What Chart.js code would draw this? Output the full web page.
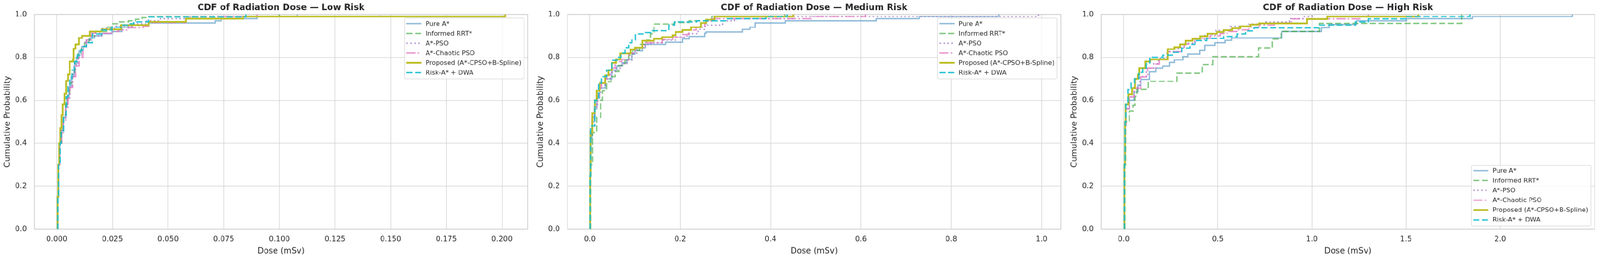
<!DOCTYPE html>
<html>
<head>
<meta charset="utf-8">
<script src="https://cdn.jsdelivr.net/npm/chart.js@4.4.1/dist/chart.umd.min.js"></script>
<style>
html,body{margin:0;padding:0;background:#ffffff;overflow:hidden;}
#stage{position:absolute;left:0;top:0;width:4244px;height:694px;transform-origin:0 0;background:#ffffff;}
.panel{position:absolute;top:0;width:1410px;height:694px;}
</style>
</head>
<body>
<div id="stage">
<div class="panel" style="left:0px"><canvas id="c1"></canvas></div>
<div class="panel" style="left:1414px"><canvas id="c2"></canvas></div>
<div class="panel" style="left:2830px"><canvas id="c3"></canvas></div>
</div>
<script>
// ---------------- DATA ----------------
const seriesNames = ['Pure A*', 'Informed RRT*', 'A*-PSO', 'A*-Chaotic PSO', 'Proposed (A*-CPSO+B-Spline)', 'Risk-A* + DWA'];
const panelTitles = ['CDF of Radiation Dose \u2014 Low Risk', 'CDF of Radiation Dose \u2014 Medium Risk', 'CDF of Radiation Dose \u2014 High Risk'];
const xAxisTitle = 'Dose (mSv)';
const yAxisTitle = 'Cumulative Probability';

const yTicks = [0, 0.2, 0.4, 0.6, 0.8, 1.0];
const yTickLabels = ['0.0', '0.2', '0.4', '0.6', '0.8', '1.0'];
const lowTicks = [0, 0.025, 0.05, 0.075, 0.1, 0.125, 0.15, 0.175, 0.2];
const lowTickLabels = ['0.000', '0.025', '0.050', '0.075', '0.100', '0.125', '0.150', '0.175', '0.200'];
const medTicks = [0, 0.2, 0.4, 0.6, 0.8, 1.0];
const medTickLabels = ['0.0', '0.2', '0.4', '0.6', '0.8', '1.0'];
const highTicks = [0, 0.5, 1.0, 1.5, 2.0];
const highTickLabels = ['0.0', '0.5', '1.0', '1.5', '2.0'];

// Low risk
const lowPureA_dose = [0.0001, 0.0004, 0.0008, 0.0014, 0.0022, 0.0030, 0.0040, 0.0046, 0.0054, 0.0065, 0.0078, 0.0088, 0.0100, 0.0112, 0.0133, 0.0150, 0.0170, 0.0201, 0.0247, 0.0292, 0.0337, 0.0413, 0.0712, 0.0739, 0.0900, 0.1080];
const lowPureA_cdf  = [0, 0.15, 0.30, 0.40, 0.46, 0.52, 0.57, 0.61, 0.66, 0.71, 0.76, 0.80, 0.83, 0.85, 0.88, 0.89, 0.90, 0.91, 0.92, 0.94, 0.95, 0.96, 0.97, 0.98, 0.99, 1.0];
const lowRRT_dose = [0.0001, 0.0004, 0.0008, 0.0014, 0.0022, 0.0030, 0.0040, 0.0048, 0.0058, 0.0070, 0.0082, 0.0095, 0.0110, 0.0125, 0.0145, 0.0175, 0.0224, 0.0247, 0.0277, 0.0322, 0.0353, 0.0383, 0.0413, 0.1000];
const lowRRT_cdf  = [0, 0.15, 0.30, 0.40, 0.46, 0.52, 0.58, 0.63, 0.68, 0.73, 0.78, 0.82, 0.85, 0.87, 0.90, 0.92, 0.94, 0.956, 0.965, 0.97, 0.977, 0.985, 0.99, 1.0];
const lowPSO_dose = [0.0001, 0.0004, 0.0008, 0.0014, 0.0022, 0.0030, 0.0040, 0.0048, 0.0058, 0.0070, 0.0082, 0.0095, 0.0110, 0.0128, 0.0150, 0.0201, 0.0260, 0.0337, 0.0400, 0.0466, 0.0600, 0.1450];
const lowPSO_cdf  = [0, 0.15, 0.30, 0.40, 0.46, 0.51, 0.57, 0.62, 0.67, 0.72, 0.77, 0.81, 0.84, 0.87, 0.90, 0.935, 0.945, 0.956, 0.97, 0.98, 0.99, 1.0];
const lowCPSO_dose = [0.0001, 0.0004, 0.0008, 0.0014, 0.0022, 0.0030, 0.0040, 0.0050, 0.0060, 0.0072, 0.0085, 0.0100, 0.0118, 0.0133, 0.0156, 0.0254, 0.0277, 0.0322, 0.0387, 0.0413, 0.0580, 0.0739, 0.0900];
const lowCPSO_cdf  = [0, 0.15, 0.30, 0.40, 0.45, 0.50, 0.56, 0.61, 0.66, 0.71, 0.76, 0.80, 0.85, 0.88, 0.912, 0.92, 0.927, 0.938, 0.944, 0.962, 0.98, 0.99, 1.0];
const lowProp_dose = [0.0001, 0.0003, 0.0006, 0.0010, 0.0016, 0.0022, 0.0027, 0.0035, 0.0042, 0.0050, 0.0058, 0.0073, 0.0076, 0.0084, 0.0099, 0.0114, 0.0148, 0.0201, 0.0288, 0.0413, 0.0580, 0.0837, 0.2015];
const lowProp_cdf  = [0, 0.15, 0.30, 0.40, 0.47, 0.53, 0.58, 0.63, 0.69, 0.72, 0.78, 0.79, 0.84, 0.86, 0.89, 0.90, 0.92, 0.93, 0.95, 0.965, 0.98, 0.99, 1.0];
const lowDWA_dose = [0.0001, 0.0004, 0.0008, 0.0016, 0.0020, 0.0031, 0.0042, 0.0050, 0.0058, 0.0069, 0.0080, 0.0092, 0.0107, 0.0118, 0.0133, 0.0160, 0.0201, 0.0247, 0.0292, 0.0322, 0.0345, 0.0413, 0.0850];
const lowDWA_cdf  = [0, 0.15, 0.30, 0.40, 0.45, 0.53, 0.616, 0.663, 0.70, 0.74, 0.78, 0.81, 0.833, 0.85, 0.868, 0.909, 0.927, 0.94, 0.95, 0.956, 0.965, 0.988, 1.0];

// Medium risk
const medPureA_dose = [0.0005, 0.001, 0.002, 0.005, 0.010, 0.015, 0.022, 0.034, 0.049, 0.060, 0.071, 0.082, 0.093, 0.100, 0.116, 0.123, 0.168, 0.205, 0.220, 0.254, 0.257, 0.338, 0.354, 0.366, 0.433, 0.634, 0.729, 0.905];
const medPureA_cdf  = [0, 0.25, 0.42, 0.50, 0.56, 0.61, 0.657, 0.70, 0.74, 0.76, 0.774, 0.79, 0.815, 0.83, 0.845, 0.86, 0.87, 0.886, 0.897, 0.912, 0.918, 0.93, 0.94, 0.96, 0.97, 0.98, 0.99, 1.0];
const medRRT_dose = [0.0005, 0.002, 0.006, 0.015, 0.024, 0.028, 0.037, 0.047, 0.056, 0.064, 0.078, 0.086, 0.095, 0.110, 0.126, 0.134, 0.142, 0.187, 0.220, 0.270, 0.432];
const medRRT_cdf  = [0, 0.30, 0.45, 0.52, 0.60, 0.645, 0.686, 0.71, 0.733, 0.762, 0.786, 0.81, 0.833, 0.86, 0.88, 0.909, 0.955, 0.962, 0.97, 0.99, 1.0];
const medPSO_dose = [0.0005, 0.001, 0.002, 0.005, 0.011, 0.017, 0.024, 0.034, 0.045, 0.056, 0.070, 0.082, 0.093, 0.104, 0.116, 0.135, 0.160, 0.190, 0.215, 0.240, 0.255, 0.294, 0.320, 0.452, 0.993];
const medPSO_cdf  = [0, 0.25, 0.44, 0.52, 0.58, 0.63, 0.67, 0.70, 0.73, 0.75, 0.77, 0.786, 0.815, 0.845, 0.86, 0.868, 0.88, 0.894, 0.91, 0.93, 0.95, 0.97, 0.98, 0.99, 1.0];
const medCPSO_dose = [0.0005, 0.001, 0.002, 0.005, 0.011, 0.016, 0.021, 0.026, 0.037, 0.048, 0.056, 0.071, 0.086, 0.101, 0.123, 0.160, 0.183, 0.205, 0.220, 0.235, 0.254, 0.257, 0.269, 0.490, 0.610];
const medCPSO_cdf  = [0, 0.25, 0.45, 0.52, 0.57, 0.62, 0.66, 0.69, 0.716, 0.75, 0.78, 0.79, 0.82, 0.845, 0.868, 0.883, 0.894, 0.906, 0.927, 0.94, 0.956, 0.968, 0.98, 0.99, 1.0];
const medProp_dose = [0.0005, 0.001, 0.002, 0.0056, 0.011, 0.015, 0.022, 0.034, 0.041, 0.049, 0.058, 0.067, 0.090, 0.100, 0.116, 0.142, 0.160, 0.183, 0.190, 0.205, 0.224, 0.246, 0.257, 0.276, 0.450];
const medProp_cdf  = [0, 0.25, 0.45, 0.54, 0.60, 0.645, 0.68, 0.716, 0.74, 0.774, 0.79, 0.818, 0.836, 0.845, 0.877, 0.886, 0.894, 0.903, 0.918, 0.927, 0.94, 0.96, 0.975, 0.99, 1.0];
const medDWA_dose = [0.0005, 0.001, 0.002, 0.011, 0.019, 0.026, 0.037, 0.049, 0.060, 0.069, 0.078, 0.086, 0.093, 0.101, 0.123, 0.138, 0.175, 0.187, 0.236, 0.304, 0.390, 0.437];
const medDWA_cdf  = [0, 0.25, 0.48, 0.60, 0.68, 0.71, 0.74, 0.786, 0.80, 0.82, 0.845, 0.868, 0.88, 0.909, 0.915, 0.924, 0.95, 0.965, 0.97, 0.98, 0.99, 1.0];

// High risk
const highPureA_dose = [0.002, 0.004, 0.007, 0.012, 0.030, 0.055, 0.075, 0.091, 0.136, 0.171, 0.207, 0.243, 0.270, 0.314, 0.341, 0.404, 0.430, 0.484, 0.538, 0.573, 0.840, 1.050, 1.092, 1.237, 1.502, 1.852, 2.383];
const highPureA_cdf  = [0, 0.30, 0.48, 0.56, 0.60, 0.638, 0.67, 0.697, 0.732, 0.75, 0.759, 0.776, 0.788, 0.803, 0.815, 0.832, 0.856, 0.868, 0.879, 0.89, 0.92, 0.938, 0.953, 0.97, 0.98, 0.99, 1.0];
const highRRT_dose = [0.003, 0.006, 0.010, 0.030, 0.050, 0.060, 0.070, 0.130, 0.283, 0.417, 0.473, 0.716, 0.790, 0.836, 1.040, 1.795];
const highRRT_cdf  = [0, 0.30, 0.50, 0.55, 0.576, 0.618, 0.651, 0.688, 0.726, 0.766, 0.803, 0.844, 0.885, 0.92, 0.958, 1.0];
const highPSO_dose = [0.002, 0.004, 0.007, 0.011, 0.030, 0.055, 0.085, 0.120, 0.160, 0.185, 0.230, 0.290, 0.330, 0.380, 0.430, 0.490, 0.567, 0.665, 0.754, 0.880, 0.960, 1.000];
const highPSO_cdf  = [0, 0.30, 0.48, 0.56, 0.615, 0.66, 0.71, 0.75, 0.77, 0.795, 0.826, 0.85, 0.866, 0.885, 0.905, 0.925, 0.944, 0.955, 0.965, 0.98, 0.99, 1.0];
const highCPSO_dose = [0.002, 0.004, 0.007, 0.011, 0.030, 0.055, 0.091, 0.127, 0.171, 0.189, 0.234, 0.305, 0.323, 0.377, 0.459, 0.513, 0.549, 0.600, 0.665, 0.720, 0.800, 0.889, 1.260, 1.300];
const highCPSO_cdf  = [0, 0.30, 0.48, 0.56, 0.615, 0.656, 0.709, 0.75, 0.768, 0.79, 0.826, 0.847, 0.862, 0.888, 0.90, 0.91, 0.92, 0.928, 0.94, 0.95, 0.96, 0.979, 0.99, 1.0];
const highProp_dose = [0.002, 0.004, 0.007, 0.010, 0.024, 0.045, 0.060, 0.075, 0.082, 0.115, 0.140, 0.234, 0.270, 0.299, 0.330, 0.365, 0.406, 0.446, 0.495, 0.531, 0.576, 0.620, 0.674, 0.718, 0.974, 1.082, 1.565];
const highProp_cdf  = [0, 0.30, 0.50, 0.58, 0.627, 0.656, 0.70, 0.72, 0.75, 0.78, 0.79, 0.838, 0.847, 0.86, 0.877, 0.886, 0.898, 0.91, 0.918, 0.926, 0.935, 0.944, 0.952, 0.958, 0.978, 0.99, 1.0];
const highDWA_dose = [0.002, 0.004, 0.007, 0.011, 0.022, 0.040, 0.058, 0.080, 0.102, 0.120, 0.138, 0.209, 0.263, 0.308, 0.352, 0.379, 0.442, 0.531, 0.602, 0.647, 0.692, 1.040, 1.230, 1.300, 1.500, 1.840];
const highDWA_cdf  = [0, 0.30, 0.50, 0.58, 0.65, 0.68, 0.70, 0.73, 0.75, 0.77, 0.80, 0.81, 0.823, 0.843, 0.86, 0.878, 0.888, 0.897, 0.909, 0.923, 0.937, 0.95, 0.965, 0.979, 0.99, 1.0];

// ---------------- STYLE ----------------
const FONT = "'DejaVu Sans', 'Liberation Sans', sans-serif";
const TEXT = '#262626';
const GRID = '#d2d2d2';
const FRAME = '#cccccc';
const seriesColors = ['rgba(31,119,180,0.5)', 'rgba(44,160,44,0.6)', 'rgba(148,103,189,0.7)', 'rgba(227,119,194,0.8)', '#bcbd22', 'rgba(23,190,207,0.92)'];
const seriesWidths = [3.6, 3.6, 3.6, 3.6, 4.6, 3.6];
const seriesDashes = [[], [16, 7], [4, 6.5], [24, 6, 4, 6], [], [16, 7]];

// fit the 4244x694 design into whatever CSS viewport the browser reports
const stage = document.getElementById('stage');
const fitScale = Math.min(window.innerWidth / 4244, window.innerHeight / 694);
stage.style.transform = 'scale(' + fitScale + ')';
const renderDPR = (window.devicePixelRatio || 1) * fitScale;

Chart.defaults.font.family = FONT;
Chart.defaults.color = TEXT;

const decoPlugin = {
  id: 'deco',
  beforeDatasetsDraw(chart) {
    const {ctx, chartArea: a} = chart;
    ctx.save();
    ctx.strokeStyle = FRAME;
    ctx.lineWidth = 2;
    ctx.strokeRect(a.left, a.top, a.right - a.left, a.bottom - a.top);
    ctx.restore();
  },
  afterDraw(chart, args, opts) {
    const {ctx, chartArea: a} = chart;
    ctx.save();
    ctx.font = 'bold 23px ' + FONT;
    ctx.fillStyle = TEXT;
    ctx.textAlign = 'center';
    ctx.textBaseline = 'alphabetic';
    ctx.fillText(opts.title, (a.left + a.right) / 2, 27);
    ctx.font = '17px ' + FONT;
    const dsets = chart.data.datasets;
    let maxW = 0;
    dsets.forEach(d => { maxW = Math.max(maxW, ctx.measureText(d.label).width); });
    const W = 56 + maxW + 7;
    const H = 161;
    const right = a.right - 10;
    const left = right - W;
    const top = opts.corner === 'bottomright' ? a.bottom - 8 - H : a.top + 10;
    const r = 4;
    ctx.beginPath();
    ctx.moveTo(left + r, top);
    ctx.lineTo(left + W - r, top);
    ctx.quadraticCurveTo(left + W, top, left + W, top + r);
    ctx.lineTo(left + W, top + H - r);
    ctx.quadraticCurveTo(left + W, top + H, left + W - r, top + H);
    ctx.lineTo(left + r, top + H);
    ctx.quadraticCurveTo(left, top + H, left, top + H - r);
    ctx.lineTo(left, top + r);
    ctx.quadraticCurveTo(left, top, left + r, top);
    ctx.closePath();
    ctx.fillStyle = 'rgba(255,255,255,0.8)';
    ctx.fill();
    ctx.strokeStyle = '#d0d0d0';
    ctx.lineWidth = 1.3;
    ctx.stroke();
    dsets.forEach((d, i) => {
      const cy = top + 14.5 + 26 * i;
      ctx.save();
      ctx.strokeStyle = d.borderColor;
      ctx.lineWidth = d.borderWidth;
      ctx.setLineDash(d.borderDash || []);
      ctx.lineCap = 'butt';
      ctx.beginPath();
      ctx.moveTo(left + 5, cy);
      ctx.lineTo(left + 45, cy);
      ctx.stroke();
      ctx.restore();
      ctx.fillStyle = TEXT;
      ctx.textAlign = 'left';
      ctx.textBaseline = 'middle';
      ctx.fillText(d.label, left + 56, cy + 1);
    });
    ctx.restore();
  }
};

function makePanel(canvasId, title, corner, doseArrays, cdfArrays, xt, xl) {
  let M = 0;
  doseArrays.forEach(arr => arr.forEach(v => { if (v > M) M = v; }));
  const datasets = doseArrays.map((dose, i) => ({
    label: seriesNames[i],
    data: dose.map((d, k) => ({x: d, y: cdfArrays[i][k]})),
    borderColor: seriesColors[i],
    borderWidth: seriesWidths[i],
    borderDash: seriesDashes[i],
    borderCapStyle: 'butt',
    borderJoinStyle: 'miter',
    stepped: true,
    pointRadius: 0,
    fill: false,
    order: 6 - i
  }));
  new Chart(document.getElementById(canvasId), {
    type: 'line',
    data: {datasets},
    plugins: [decoPlugin],
    options: {
      responsive: true,
      maintainAspectRatio: false,
      devicePixelRatio: renderDPR,
      animation: false,
      events: [],
      layout: {padding: {left: 0, right: 11, top: 38, bottom: 0}},
      plugins: {
        legend: {display: false},
        tooltip: {enabled: false},
        title: {display: false},
        deco: {title, corner}
      },
      scales: {
        x: {
          type: 'linear',
          min: -0.05 * M,
          max: 1.05 * M,
          afterFit: s => { s.height = 87; },
          afterBuildTicks: s => { s.ticks = xt.map(v => ({value: v})); },
          ticks: {autoSkip: false, maxRotation: 0, padding: 16, font: {size: 19.5}, color: TEXT,
                  callback: (v, i) => xl[i]},
          grid: {color: GRID, lineWidth: 1.6, drawTicks: false},
          border: {display: false},
          title: {display: true, text: xAxisTitle, font: {size: 21.5}, color: TEXT, padding: {top: 0, bottom: 15}}
        },
        y: {
          type: 'linear',
          min: 0,
          max: 1,
          afterFit: s => { s.width = 91; },
          afterBuildTicks: s => { s.ticks = yTicks.map(v => ({value: v})); },
          ticks: {padding: 20, font: {size: 19.5}, color: TEXT, callback: (v, i) => yTickLabels[i]},
          grid: {color: GRID, lineWidth: 1.6, drawTicks: false},
          border: {display: false},
          title: {display: true, text: yAxisTitle, font: {size: 21.5}, color: TEXT, padding: {top: 7, bottom: 0}}
        }
      }
    }
  });
}

makePanel('c1', panelTitles[0], 'topright',
  [lowPureA_dose, lowRRT_dose, lowPSO_dose, lowCPSO_dose, lowProp_dose, lowDWA_dose],
  [lowPureA_cdf, lowRRT_cdf, lowPSO_cdf, lowCPSO_cdf, lowProp_cdf, lowDWA_cdf],
  lowTicks, lowTickLabels);
makePanel('c2', panelTitles[1], 'topright',
  [medPureA_dose, medRRT_dose, medPSO_dose, medCPSO_dose, medProp_dose, medDWA_dose],
  [medPureA_cdf, medRRT_cdf, medPSO_cdf, medCPSO_cdf, medProp_cdf, medDWA_cdf],
  medTicks, medTickLabels);
makePanel('c3', panelTitles[2], 'bottomright',
  [highPureA_dose, highRRT_dose, highPSO_dose, highCPSO_dose, highProp_dose, highDWA_dose],
  [highPureA_cdf, highRRT_cdf, highPSO_cdf, highCPSO_cdf, highProp_cdf, highDWA_cdf],
  highTicks, highTickLabels);
</script>
</body>
</html>
